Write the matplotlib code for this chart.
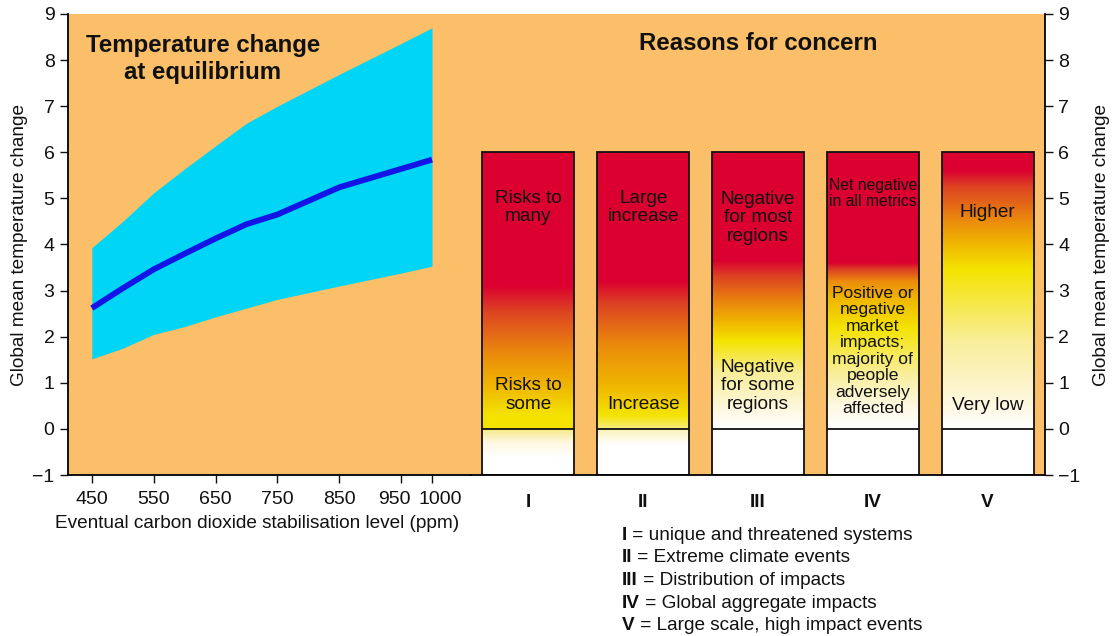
#!/usr/bin/env python3
"""Equilibrium warming vs. CO2 stabilisation level, with the five reasons for concern."""

import numpy as np
import matplotlib
matplotlib.use("Agg")
import matplotlib.pyplot as plt
from matplotlib.colors import to_rgb
from matplotlib.transforms import ScaledTranslation

plt.rcParams["font.family"] = ["Liberation Sans", "DejaVu Sans"]

BG = "#FBBF69"
BAND = "#00D5F5"
LINE = "#1414E6"
INK = "#111111"

# --- temperature change at equilibrium -------------------------------------
ppm = [450, 500, 550, 600, 650, 700, 750, 850, 950, 1000]
t_upper = [3.93, 4.50, 5.12, 5.64, 6.14, 6.63, 7.00, 7.69, 8.36, 8.70]
t_central = [2.62, 3.05, 3.46, 3.80, 4.13, 4.44, 4.65, 5.24, 5.64, 5.84]
t_lower = [1.52, 1.75, 2.05, 2.22, 2.43, 2.62, 2.81, 3.10, 3.38, 3.53]
ppm_ticks = [450, 550, 650, 750, 850, 950, 1000]

# --- reasons for concern ------------------------------------------------------
reasons = ["I", "II", "III", "IV", "V"]
bar_bottom, bar_top = -1, 6

RED = "#DB0030"
EMBER = "#DD4322"
ORANGE = "#EB8C0C"
AMBER = "#F0B800"
YELLOW = "#F4E300"
BUTTER = "#F9EE9A"
CREAM = "#FEF8E2"
WHITE = "#FFFFFF"

# colour stops (temperature, colour) up each bar
stops_I = [(-1, WHITE), (-0.65, WHITE), (-0.3, CREAM), (-0.01, "#F6EA88"), (0, YELLOW),
           (0.3, YELLOW), (0.9, AMBER), (1.6, ORANGE), (2.55, EMBER), (3.1, RED), (6, RED)]
stops_II = [(-1, WHITE), (-0.35, WHITE), (-0.01, "#FBF3B8"), (0, "#F8EC80"),
            (0.3, YELLOW), (0.9, AMBER), (1.8, ORANGE), (2.7, EMBER), (3.2, RED), (6, RED)]
stops_III = [(-1, WHITE), (0, WHITE), (0.4, CREAM), (1.2, BUTTER), (1.9, YELLOW),
             (2.3, AMBER), (2.7, ORANGE), (3.3, EMBER), (3.65, RED), (6, RED)]
stops_IV = [(-1, WHITE), (0, WHITE), (0.5, CREAM), (1.2, BUTTER), (2.2, YELLOW),
            (2.8, AMBER), (3.2, ORANGE), (3.45, EMBER), (3.6, RED), (6, RED)]
stops_V = [(-1, WHITE), (0, WHITE), (0.5, CREAM), (1.9, BUTTER), (3.45, YELLOW),
           (4.0, AMBER), (4.5, ORANGE), (5.25, EMBER), (5.6, RED), (6, RED)]
bar_stops = [stops_I, stops_II, stops_III, stops_IV, stops_V]

upper_text = ["Risks to\nmany", "Large\nincrease", "Negative\nfor most\nregions",
              "Net negative\nin all metrics", "Higher"]
upper_y = [4.8, 4.8, 4.58, 5.1, 4.7]
lower_text = ["Risks to\nsome", "Increase", "Negative\nfor some\nregions",
              "Positive or\nnegative\nmarket\nimpacts;\nmajority of\npeople\nadversely\naffected",
              "Very low"]
lower_y = [0.74, 0.53, 0.94, 1.69, 0.5]

key_names = ["unique and threatened systems", "Extreme climate events",
             "Distribution of impacts", "Global aggregate impacts",
             "Large scale, high impact events"]


def gradient(stops, n=700):
    ys = np.linspace(bar_bottom, bar_top, n)
    pos = [s[0] for s in stops]
    rgb = np.array([to_rgb(s[1]) for s in stops])
    img = np.stack([np.interp(ys, pos, rgb[:, k]) for k in range(3)], axis=-1)
    return img[:, None, :]


fig = plt.figure(figsize=(11.15, 6.36), dpi=100)
x0, split, x1 = 67.7 / 1115, 471 / 1115, 1045 / 1115
y0, y1 = 1 - 475 / 636, 1 - 14 / 636
ax1 = fig.add_axes([x0, y0, split - x0, y1 - y0], facecolor=BG)
ax2 = fig.add_axes([split, y0, x1 - split, y1 - y0], facecolor=BG, sharey=ax1)

# left panel
ax1.fill_between(ppm, t_lower, t_upper, color=BAND, lw=0, zorder=1)
ax1.plot(ppm, t_central, color=LINE, lw=4.2, solid_capstyle="butt", zorder=2)
ax1.set_xlim(411, 1063)
ax1.set_ylim(-1, 9)
ax1.set_xticks(ppm_ticks)
ax1.set_yticks(range(-1, 10))
ax1.spines[["top", "right"]].set_visible(False)
ax1.spines[["left", "bottom"]].set_linewidth(1.3)
ax1.tick_params(direction="out", length=5.5, width=1, labelsize=14, pad=4, colors=INK)
ax1.tick_params(axis="x", pad=6)
ax1.set_xlabel("Eventual carbon dioxide stabilisation level (ppm)", fontsize=13.7, color=INK)
ax1.xaxis.set_label_coords(0.47, -0.086)
ax1.set_ylabel("Global mean temperature change", fontsize=13.7, labelpad=3, color=INK)
ax1.text(0.335, 0.902, "Temperature change\nat equilibrium", transform=ax1.transAxes,
         ha="center", va="center", fontsize=17.3, fontweight="bold", linespacing=1.2,
         color=INK)

# the 950 and 1000 labels sit close together: nudge them apart
fig.canvas.draw()
xlabels = ax1.get_xticklabels()
for lab, dx in ((xlabels[-2], -7), (xlabels[-1], 8)):
    lab.set_transform(lab.get_transform() + ScaledTranslation(dx / 100, 0, fig.dpi_scale_trans))

# right panel: gradient bars
width = 0.8
pos = np.arange(len(reasons))
for x, stops in zip(pos, bar_stops):
    ax2.imshow(gradient(stops), origin="lower", aspect="auto", interpolation="bilinear",
               extent=(x - width / 2, x + width / 2, bar_bottom, bar_top), zorder=1)
ax2.bar(pos, bar_top - bar_bottom, bottom=bar_bottom, width=width, fill=False,
        edgecolor=INK, lw=1.3, zorder=2)
ax2.hlines(np.zeros(len(pos)), pos - width / 2, pos + width / 2,
           color=INK, lw=1.3, zorder=2)

for i, x in enumerate(pos):
    narrow = reasons[i] == "IV"
    ax2.text(x, upper_y[i], upper_text[i], ha="center", va="center",
             fontsize=11.3 if narrow else 13.7, linespacing=1.05 if narrow else 1.12,
             color=INK, zorder=3)
    ax2.text(x, lower_y[i], lower_text[i], ha="center", va="center",
             fontsize=12.6 if narrow else 13.7, linespacing=1.12,
             color=INK, zorder=3)

ax2.set_xlim(-0.5, 4.5)
ax2.set_ylim(-1, 9)
ax2.set_xticks(pos, reasons, fontweight="bold", fontsize=13.7)
ax2.tick_params(axis="x", length=0, pad=14, colors=INK)
ax2.tick_params(axis="y", left=False, labelleft=False, right=True, labelright=True,
                direction="out", length=5.5, width=1, labelsize=14, pad=4, colors=INK)
ax2.spines[["top", "left"]].set_visible(False)
ax2.spines[["right", "bottom"]].set_linewidth(1.3)
ax2.yaxis.set_label_position("right")
ax2.set_ylabel("Global mean temperature change", fontsize=13.7, labelpad=9, color=INK)
ax2.text(0.5, 0.937, "Reasons for concern", transform=ax2.transAxes,
         ha="center", va="center", fontsize=17.3, fontweight="bold", color=INK)

# key to the roman numerals: bold numeral, then plain description
for k, (num, name) in enumerate(zip(reasons, key_names)):
    yy = 1 - (535.5 + 22.5 * k) / 636
    t = fig.text(622 / 1115, yy, num, ha="left", va="center", fontsize=13.7,
                 fontweight="bold", color=INK)
    ax2.annotate(" = " + name, xy=(1, 0), xycoords=t, ha="left", va="bottom",
                 fontsize=13.7, annotation_clip=False, color=INK)

fig.savefig("out.png", dpi=100, facecolor="white")
